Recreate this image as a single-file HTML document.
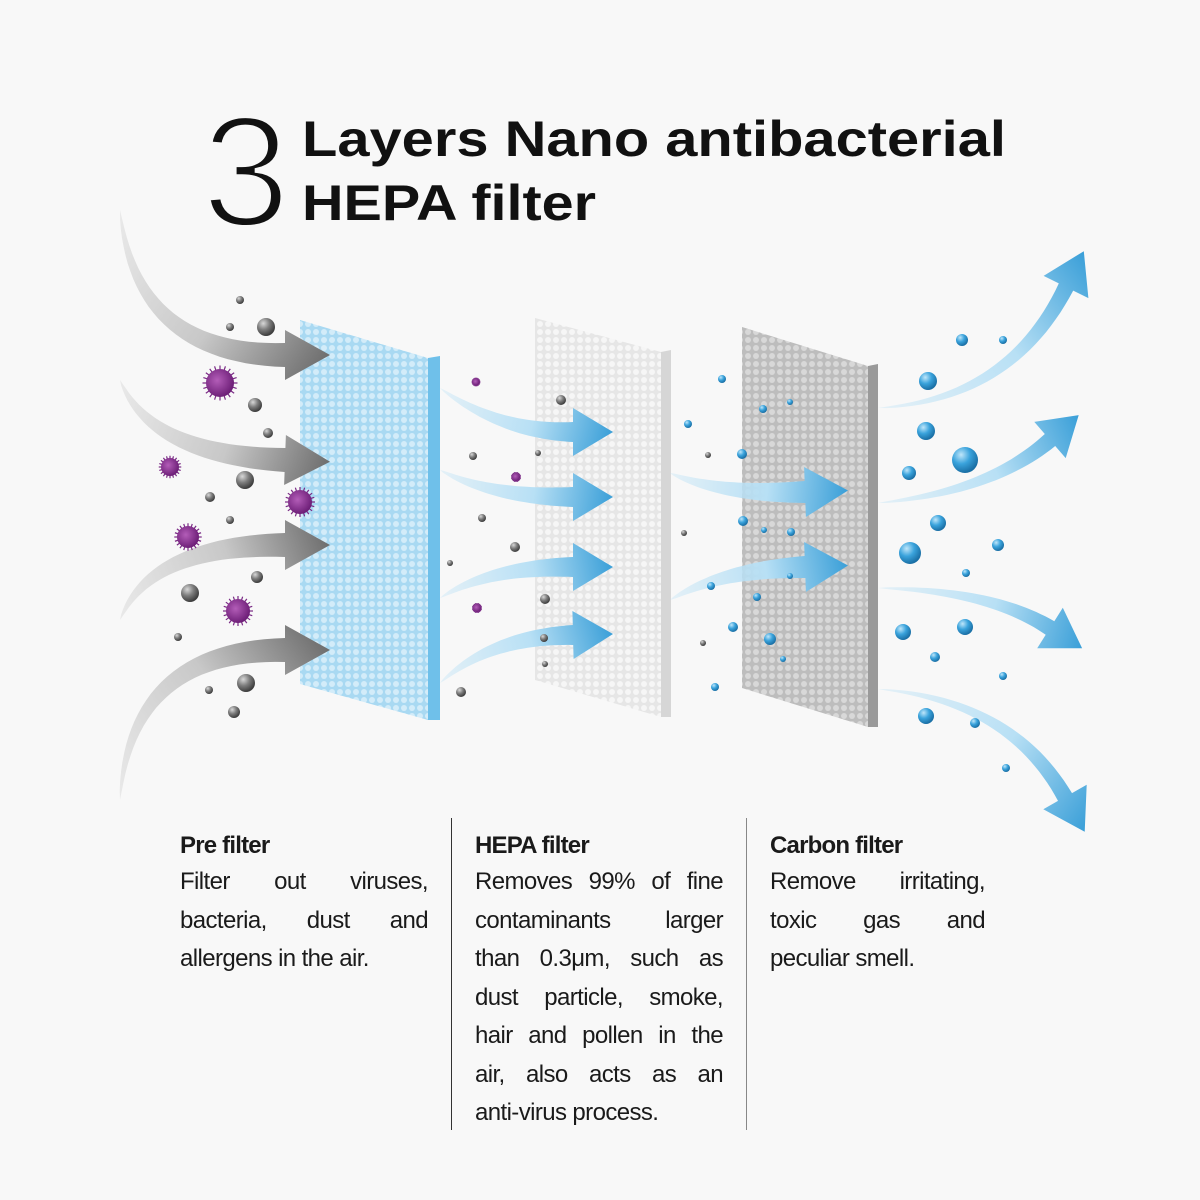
<!DOCTYPE html>
<html><head><meta charset="utf-8">
<style>
html,body{margin:0;padding:0;background:#f8f8f8;}
#wrap{position:relative;width:1200px;height:1200px;overflow:hidden;background:#f8f8f8;font-family:"Liberation Sans",sans-serif;color:#1a1a1a;}
svg{position:absolute;left:0;top:0;}
.col{position:absolute;top:829px;width:248px;font-size:24px;letter-spacing:-0.6px;line-height:38.5px;}
.col h3{margin:0;font-size:24px;font-weight:bold;line-height:34px;letter-spacing:-0.8px;}
.l{text-align:justify;text-align-last:justify;white-space:nowrap;}
.l.n{text-align-last:left;}
.div{position:absolute;top:818px;width:1px;height:312px;background:#333;}
</style></head><body>
<div id="wrap">
<svg id="s" width="1200" height="1200" viewBox="0 0 1200 1200" xmlns="http://www.w3.org/2000/svg">
<defs>
<pattern id="pb" width="8" height="8" patternUnits="userSpaceOnUse"><rect width="8" height="8" fill="#a9d9f2"/><circle cx="4" cy="4" r="3" fill="#d3ecf9"/></pattern>
<pattern id="pw" width="8" height="8" patternUnits="userSpaceOnUse"><rect width="8" height="8" fill="#e6e6e6"/><circle cx="4" cy="4" r="3" fill="#f6f6f6"/></pattern>
<pattern id="pg" width="8" height="8" patternUnits="userSpaceOnUse"><rect width="8" height="8" fill="#bdbdbd"/><circle cx="4" cy="4" r="3" fill="#d8d8d8"/></pattern>
<radialGradient id="gs" cx="35%" cy="30%" r="70%"><stop offset="0" stop-color="#d8d8d8"/><stop offset="0.5" stop-color="#7d7d7d"/><stop offset="1" stop-color="#3d3d3d"/></radialGradient>
<radialGradient id="bs" cx="35%" cy="30%" r="70%"><stop offset="0" stop-color="#bfe6fa"/><stop offset="0.5" stop-color="#3aa3dc"/><stop offset="1" stop-color="#1a6fa5"/></radialGradient>
<radialGradient id="vs" cx="40%" cy="40%" r="60%"><stop offset="0" stop-color="#b35db8"/><stop offset="1" stop-color="#6e1f78"/></radialGradient>
</defs>
<text x="202" y="226" font-family="Liberation Sans" font-size="158" font-weight="normal" fill="#111" stroke="#f8f8f8" stroke-width="5" paint-order="normal">3</text>
<text x="302" y="156" font-family="Liberation Sans" font-size="50" font-weight="bold" fill="#111" textLength="704" lengthAdjust="spacingAndGlyphs">Layers Nano antibacterial</text>
<text x="302" y="220" font-family="Liberation Sans" font-size="50" font-weight="bold" fill="#111" textLength="294" lengthAdjust="spacingAndGlyphs">HEPA filter</text>
<polygon points="300,320 428,358 428,720 300,684" fill="url(#pb)"/>
<polygon points="428,358 440,356 440,720 428,720" fill="#6fc0ea"/>
<polygon points="535,318 661,352 661,717 535,680" fill="url(#pw)"/>
<polygon points="661,352 671,350 671,717 661,717" fill="#d6d6d6"/>
<polygon points="742,327 868,366 868,727 742,688" fill="url(#pg)"/>
<polygon points="868,366 878,364 878,727 868,727" fill="#9a9a9a"/>
<g id="arrows"></g>
<g id="parts"></g>
</svg>
<div class="col" style="left:180px"><h3>Pre filter</h3>
<div class="l">Filter out viruses,</div><div class="l">bacteria, dust and</div><div class="l n">allergens in the air.</div></div>
<div class="div" style="left:451px"></div>
<div class="col" style="left:475px"><h3>HEPA filter</h3>
<div class="l">Removes 99% of fine</div><div class="l">contaminants larger</div><div class="l">than 0.3μm, such as</div><div class="l">dust particle, smoke,</div><div class="l">hair and pollen in the</div><div class="l">air, also acts as an</div><div class="l n">anti-virus process.</div></div>
<div class="div" style="left:746px;background:#888"></div>
<div class="col" style="left:770px;width:215px"><h3>Carbon filter</h3>
<div class="l">Remove irritating,</div><div class="l">toxic gas and</div><div class="l n">peculiar smell.</div></div>
</div>
<script>
var NS="http://www.w3.org/2000/svg",A=document.getElementById('arrows'),P=document.getElementById('parts'),defs=document.querySelector('defs'),gi=0;
function el(t,a,p){var e=document.createElementNS(NS,t);for(var k in a)e.setAttribute(k,a[k]);(p||A).appendChild(e);return e;}
function arrow(T,C,N,w,hw,hl,c1,c2){
 var id='ag'+(gi++);var tx=N[0]-C[0],ty=N[1]-C[1],L=Math.hypot(tx,ty);tx/=L;ty/=L;
 var tip=[N[0]+tx*hl,N[1]+ty*hl];
 var g=el('linearGradient',{id:id,gradientUnits:'userSpaceOnUse',x1:T[0],y1:T[1],x2:tip[0],y2:tip[1]},defs);
 el('stop',{offset:0,'stop-color':c1,'stop-opacity':0.3},g);el('stop',{offset:0.55,'stop-color':c1},g);el('stop',{offset:1,'stop-color':c2},g);
 var L1=[],R=[],n=30;
 for(var i=0;i<=n;i++){var t=i/n,u=1-t;
  var x=u*u*T[0]+2*u*t*C[0]+t*t*N[0],y=u*u*T[1]+2*u*t*C[1]+t*t*N[1];
  var dx=2*u*(C[0]-T[0])+2*t*(N[0]-C[0]),dy=2*u*(C[1]-T[1])+2*t*(N[1]-C[1]),d=Math.hypot(dx,dy);
  var nx=-dy/d,ny=dx/d,ww=w*Math.pow(t,0.7)/2;
  L1.push([x+nx*ww,y+ny*ww]);R.push([x-nx*ww,y-ny*ww]);}
 var nx=-ty,ny=tx;
 var pts=L1.concat([[N[0]+nx*hw,N[1]+ny*hw],tip,[N[0]-nx*hw,N[1]-ny*hw]]).concat(R.reverse());
 el('polygon',{points:pts.map(function(p){return p[0].toFixed(1)+','+p[1].toFixed(1)}).join(' '),fill:'url(#'+id+')'});
}
var G1='#c8c8c8',G2='#6e6e6e',B1='#b8e0f5',B2='#3a9fd8';
arrow([120,210],[135,355],[285,355],24,25,45,G1,G2);
arrow([120,380],[150,455],[285,460],24,25,45,G1,G2);
arrow([120,620],[150,545],[285,545],24,25,45,G1,G2);
arrow([120,800],[130,650],[285,650],24,25,45,G1,G2);
arrow([440,388],[500,432],[573,432],20,24,40,B1,B2);
arrow([440,470],[490,497],[573,497],20,24,40,B1,B2);
arrow([440,598],[490,567],[573,567],20,24,40,B1,B2);
arrow([440,683],[490,637],[573,635],20,24,40,B1,B2);
arrow([670,473],[720,495],[805,492],22,25,43,B1,B2);
arrow([670,600],[720,570],[805,567],22,25,43,B1,B2);
arrow([878,408],[1010,400],[1066,287],16,25,40,B1,B2);
arrow([878,503],[990,492],[1050,440],16,24,38,B1,B2);
arrow([878,588],[990,590],[1050,628],16,24,38,B1,B2);
arrow([878,689],[1010,700],[1065,797],16,25,40,B1,B2);
function dot(x,y,r,f){el('circle',{cx:x,cy:y,r:r,fill:'url(#'+f+')'},P);}
function virus(x,y,r){var g=el('g',{},P);for(var i=0;i<20;i++){var a=i*Math.PI/10;el('line',{x1:x,y1:y,x2:x+Math.cos(a)*r*1.25,y2:y+Math.sin(a)*r*1.25,stroke:'#7a2a85','stroke-width':1.2},g);}el('circle',{cx:x,cy:y,r:r,fill:'url(#vs)'},g);}
[[240,300,4],[230,327,4],[266,327,9],[255,405,7],[268,433,5],[245,480,9],[210,497,5],[230,520,4],[257,577,6],[190,593,9],[178,637,4],[246,683,9],[209,690,4],[234,712,6],
[561,400,5],[473,456,4],[538,453,3],[515,547,5],[482,518,4],[545,599,5],[450,563,3],[544,638,4],[461,692,5],[545,664,3],[708,455,3],[684,533,3],[703,643,3]].forEach(function(d){dot(d[0],d[1],d[2],'gs');});
[[220,383,14],[170,467,9],[300,502,12],[188,537,11],[238,611,12],[476,382,3.5],[516,477,4],[477,608,4]].forEach(function(d){virus(d[0],d[1],d[2]);});
[[722,379,4],[688,424,4],[742,454,5],[763,409,4],[790,402,3],[743,521,5],[764,530,3],[791,532,4],[711,586,4],[757,597,4],[790,576,3],[733,627,5],[770,639,6],[715,687,4],[783,659,3],
[962,340,6],[1003,340,4],[928,381,9],[926,431,9],[965,460,13],[909,473,7],[938,523,8],[910,553,11],[998,545,6],[966,573,4],[903,632,8],[965,627,8],[935,657,5],[1003,676,4],[926,716,8],[975,723,5],[1006,768,4]].forEach(function(d){dot(d[0],d[1],d[2],'bs');});
</script>
</body></html>
